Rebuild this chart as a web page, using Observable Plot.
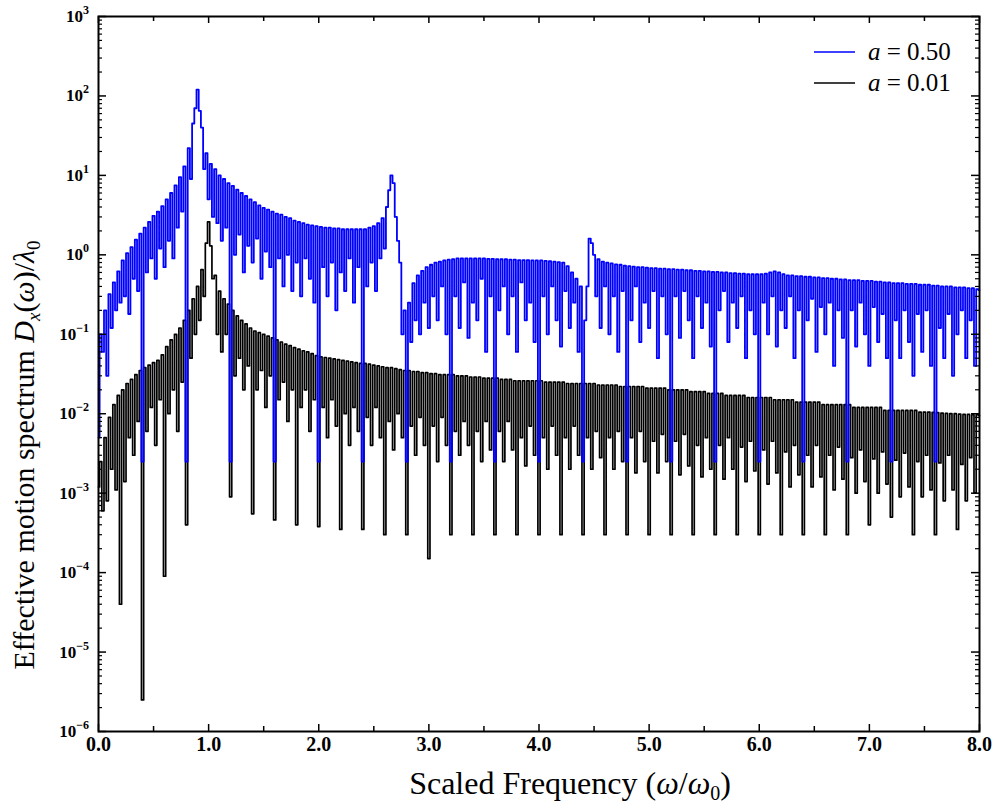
<!DOCTYPE html>
<html><head><meta charset="utf-8">
<script src="https://cdn.jsdelivr.net/npm/d3@7"></script>
<script src="https://cdn.jsdelivr.net/npm/@observablehq/plot@0.6"></script>
<style>
html,body{margin:0;padding:0;background:#fff;}
#chart svg{display:block;}
</style></head><body><div id="chart"></div>
<script>
// sampling interval of the spectra (in ω/ω0)
const step = 0.02;

// a = 0.50 (blue), samples at x = 0, 0.02, ... 8.00 (one row = 0.4 units)
const blueValues = [
  0.005, 0.1, 0.06, 0.2, 0.03, 0.32, 0.12, 0.45, 0.2, 0.62, 0.25, 0.85, 0.3, 1.05, 0.18, 1.25, 0.5, 1.55, 0.35, 1.85,
  0.0025, 2.2, 0.6, 2.6, 0.9, 3.1, 0.5, 3.5, 1.2, 4.1, 0.7, 5.0, 1.5, 6.0, 0.9, 7.5, 2.2, 9.5, 3.5, 13,
  0.0025, 22, 9, 45, 70, 120, 65, 40, 12, 19, 5, 14, 3, 12, 2.5, 10, 1.5, 9, 2.2, 8,
  0.0025, 7.4, 1.0, 6.6, 1.8, 6.0, 0.6, 5.5, 1.3, 5.0, 0.8, 4.6, 1.6, 4.2, 0.5, 3.9, 1.1, 3.7, 0.7, 3.5,
  0.0025, 3.3, 0.9, 3.2, 0.4, 3.0, 1.0, 2.9, 0.35, 2.7, 0.8, 2.6, 0.3, 2.5, 0.9, 2.4, 0.5, 2.35, 0.25, 2.3,
  0.0025, 2.25, 0.7, 2.2, 0.3, 2.2, 0.8, 2.15, 0.2, 2.15, 0.6, 2.1, 0.35, 2.1, 0.9, 2.1, 0.25, 2.1, 0.7, 2.1,
  0.0025, 2.1, 0.4, 2.2, 0.8, 2.3, 0.35, 2.5, 0.9, 2.9, 1.2, 4.0, 6.5, 10, 8, 3.0, 1.5, 0.8, 0.1, 0.2,
  0.0025, 0.25, 0.08, 0.44, 0.15, 0.55, 0.1, 0.63, 0.25, 0.7, 0.12, 0.75, 0.3, 0.8, 0.15, 0.82, 0.4, 0.85, 0.1, 0.87,
  0.0025, 0.88, 0.3, 0.9, 0.12, 0.9, 0.45, 0.9, 0.09, 0.9, 0.25, 0.9, 0.15, 0.9, 0.5, 0.9, 0.06, 0.89, 0.3, 0.89,
  0.0025, 0.88, 0.2, 0.88, 0.4, 0.88, 0.1, 0.87, 0.3, 0.87, 0.06, 0.86, 0.45, 0.86, 0.15, 0.86, 0.25, 0.85, 0.08, 0.85,
  0.0025, 0.85, 0.3, 0.84, 0.1, 0.83, 0.4, 0.82, 0.15, 0.81, 0.07, 0.8, 0.35, 0.72, 0.12, 0.6, 0.25, 0.5, 0.06, 0.4,
  0.0025, 0.15, 0.4, 1.6, 1.4, 1.0, 0.3, 0.88, 0.12, 0.82, 0.4, 0.8, 0.1, 0.78, 0.3, 0.76, 0.06, 0.75, 0.35, 0.73,
  0.0025, 0.72, 0.15, 0.71, 0.4, 0.7, 0.08, 0.7, 0.25, 0.69, 0.12, 0.68, 0.35, 0.68, 0.05, 0.67, 0.3, 0.67, 0.1, 0.66,
  0.0025, 0.66, 0.3, 0.65, 0.09, 0.65, 0.35, 0.64, 0.15, 0.64, 0.05, 0.63, 0.3, 0.63, 0.12, 0.62, 0.25, 0.62, 0.07, 0.61,
  0.0025, 0.61, 0.2, 0.6, 0.35, 0.6, 0.08, 0.59, 0.25, 0.59, 0.12, 0.58, 0.3, 0.58, 0.05, 0.57, 0.2, 0.57, 0.1, 0.57,
  0.0025, 0.57, 0.25, 0.58, 0.1, 0.6, 0.3, 0.62, 0.07, 0.6, 0.2, 0.57, 0.12, 0.55, 0.3, 0.55, 0.05, 0.54, 0.2, 0.54,
  0.0025, 0.53, 0.15, 0.53, 0.28, 0.52, 0.06, 0.52, 0.22, 0.51, 0.1, 0.51, 0.25, 0.5, 0.04, 0.5, 0.2, 0.49, 0.09, 0.49,
  0.0025, 0.48, 0.2, 0.48, 0.07, 0.48, 0.25, 0.47, 0.1, 0.47, 0.04, 0.47, 0.22, 0.46, 0.08, 0.46, 0.18, 0.45, 0.05, 0.45,
  0.0025, 0.44, 0.15, 0.44, 0.05, 0.44, 0.2, 0.43, 0.08, 0.43, 0.03, 0.43, 0.18, 0.42, 0.06, 0.42, 0.2, 0.42, 0.04, 0.41,
  0.0025, 0.41, 0.12, 0.4, 0.05, 0.4, 0.18, 0.4, 0.03, 0.39, 0.1, 0.39, 0.2, 0.39, 0.05, 0.38, 0.15, 0.38, 0.04, 0.37,
  0.36
];

// a = 0.01 (black), same sampling
const blackValues = [
  0.0012, 0.0025, 0.0006, 0.005, 0.0008, 0.009, 0.002, 0.013, 0.0011, 0.017, 0.00004, 0.02, 0.0014, 0.024, 0.005, 0.027, 0.003, 0.031, 0.008, 0.035,
  0.0000025, 0.038, 0.006, 0.041, 0.012, 0.044, 0.004, 0.047, 0.015, 0.055, 0.00009, 0.07, 0.01, 0.085, 0.02, 0.1, 0.006, 0.12, 0.025, 0.15,
  0.0004, 0.2, 0.05, 0.28, 0.1, 0.4, 0.15, 0.65, 0.3, 1.4, 2.6, 1.3, 0.5, 0.55, 0.1, 0.35, 0.06, 0.28, 0.1, 0.24,
  0.0009, 0.2, 0.03, 0.17, 0.05, 0.15, 0.02, 0.135, 0.04, 0.12, 0.00055, 0.11, 0.02, 0.105, 0.035, 0.1, 0.012, 0.095, 0.03, 0.09,
  0.00046, 0.085, 0.015, 0.08, 0.025, 0.075, 0.008, 0.072, 0.02, 0.068, 0.0004, 0.065, 0.012, 0.062, 0.02, 0.06, 0.006, 0.057, 0.015, 0.054,
  0.00038, 0.052, 0.012, 0.051, 0.005, 0.05, 0.015, 0.049, 0.007, 0.048, 0.00035, 0.047, 0.01, 0.046, 0.004, 0.045, 0.012, 0.044, 0.006, 0.043,
  0.00035, 0.043, 0.009, 0.042, 0.004, 0.041, 0.012, 0.04, 0.005, 0.039, 0.0003, 0.038, 0.008, 0.038, 0.0035, 0.037, 0.01, 0.036, 0.005, 0.035,
  0.0003, 0.035, 0.007, 0.034, 0.003, 0.034, 0.009, 0.033, 0.004, 0.033, 0.00015, 0.032, 0.007, 0.032, 0.0025, 0.031, 0.009, 0.031, 0.004, 0.031,
  0.0003, 0.031, 0.006, 0.03, 0.003, 0.03, 0.008, 0.03, 0.004, 0.029, 0.0003, 0.029, 0.006, 0.029, 0.0025, 0.028, 0.008, 0.028, 0.0035, 0.028,
  0.0003, 0.028, 0.006, 0.027, 0.0025, 0.027, 0.008, 0.027, 0.0035, 0.026, 0.0003, 0.026, 0.005, 0.026, 0.0022, 0.026, 0.007, 0.026, 0.003, 0.026,
  0.0003, 0.026, 0.005, 0.025, 0.002, 0.025, 0.007, 0.025, 0.003, 0.025, 0.0003, 0.025, 0.005, 0.024, 0.002, 0.024, 0.007, 0.024, 0.003, 0.024,
  0.0003, 0.024, 0.005, 0.024, 0.002, 0.024, 0.006, 0.023, 0.0028, 0.023, 0.0003, 0.023, 0.005, 0.023, 0.002, 0.023, 0.006, 0.022, 0.0025, 0.022,
  0.0003, 0.022, 0.005, 0.022, 0.0018, 0.022, 0.006, 0.022, 0.0025, 0.021, 0.0003, 0.021, 0.0045, 0.021, 0.0018, 0.021, 0.0055, 0.021, 0.0025, 0.02,
  0.0003, 0.02, 0.0045, 0.02, 0.0017, 0.02, 0.0055, 0.02, 0.0022, 0.019, 0.0003, 0.019, 0.004, 0.019, 0.0016, 0.019, 0.005, 0.018, 0.002, 0.018,
  0.0003, 0.018, 0.004, 0.018, 0.0015, 0.017, 0.005, 0.017, 0.002, 0.017, 0.0003, 0.017, 0.0038, 0.017, 0.0014, 0.016, 0.0045, 0.016, 0.0019, 0.016,
  0.0003, 0.016, 0.0035, 0.016, 0.0013, 0.016, 0.0045, 0.015, 0.0018, 0.015, 0.0003, 0.015, 0.0033, 0.015, 0.0012, 0.015, 0.004, 0.014, 0.0017, 0.014,
  0.0003, 0.014, 0.003, 0.014, 0.0012, 0.014, 0.004, 0.014, 0.0016, 0.013, 0.0003, 0.013, 0.003, 0.013, 0.0011, 0.013, 0.0038, 0.013, 0.0015, 0.013,
  0.0003, 0.013, 0.0028, 0.012, 0.001, 0.012, 0.0035, 0.012, 0.0014, 0.012, 0.0004, 0.012, 0.0027, 0.012, 0.001, 0.012, 0.0033, 0.011, 0.0013, 0.011,
  0.0005, 0.011, 0.0026, 0.011, 0.0009, 0.011, 0.0032, 0.011, 0.0012, 0.011, 0.0003, 0.011, 0.0025, 0.0105, 0.0009, 0.0105, 0.003, 0.0105, 0.0011, 0.0104,
  0.0003, 0.0103, 0.0024, 0.0102, 0.0008, 0.0101, 0.003, 0.01, 0.0011, 0.01, 0.00035, 0.0099, 0.0023, 0.0098, 0.0008, 0.0098, 0.0028, 0.0097, 0.001, 0.0097,
  0.0095
];

const seriesNames = ["0.50", "0.01"];
const seriesColors = ["#0000ff", "#000000"];

const xTickValues = [0, 1, 2, 3, 4, 5, 6, 7, 8];
const xTickLabels = ["0.0", "1.0", "2.0", "3.0", "4.0", "5.0", "6.0", "7.0", "8.0"];
const xMinorTicks = [0.5, 1.5, 2.5, 3.5, 4.5, 5.5, 6.5, 7.5];
const yExponents = [-6, -5, -4, -3, -2, -1, 0, 1, 2, 3];
const yMinorFactors = [2, 3, 4, 5, 6, 7, 8, 9];

const blueData = blueValues.map((v, i) => ({x: i * step, y: v}));
const blackData = blackValues.map((v, i) => ({x: i * step, y: v}));
const yMajorTicks = yExponents.map(e => Math.pow(10, e));
const yMinorTicks = yExponents.slice(0, -1).flatMap(e => yMinorFactors.map(f => f * Math.pow(10, e)));

const W = 995, H = 805;
const mL = 98, mR = 16, mT = 16, mB = 74;
const innerW = W - mL - mR, innerH = H - mT - mB;

const serif = "'Liberation Serif', 'Times New Roman', serif";

const plot = Plot.plot({
  width: W, height: H,
  marginLeft: mL, marginRight: mR, marginTop: mT, marginBottom: mB,
  style: {fontFamily: serif, background: "#fff"},
  x: {domain: [0, 8], axis: null},
  y: {type: "log", domain: [1e-6, 1e3], axis: null},
  marks: [
    Plot.line(blackData, {x: "x", y: "y", stroke: seriesColors[1], strokeWidth: 1.7, curve: "step"}),
    Plot.line(blueData, {x: "x", y: "y", stroke: seriesColors[0], strokeWidth: 1.8, curve: "step"}),
    // inward ticks, bottom & top
    Plot.tickX(xTickValues, {x: d => d, insetTop: innerH - 7, strokeWidth: 1.5}),
    Plot.tickX(xTickValues, {x: d => d, insetBottom: innerH - 7, strokeWidth: 1.5}),
    Plot.tickX(xMinorTicks, {x: d => d, insetTop: innerH - 5, strokeWidth: 1.5}),
    Plot.tickX(xMinorTicks, {x: d => d, insetBottom: innerH - 5, strokeWidth: 1.5}),
    // inward ticks, left & right
    Plot.tickY(yMajorTicks, {y: d => d, insetRight: innerW - 8, strokeWidth: 1.5}),
    Plot.tickY(yMajorTicks, {y: d => d, insetLeft: innerW - 8, strokeWidth: 1.5}),
    Plot.tickY(yMinorTicks, {y: d => d, insetRight: innerW - 4, strokeWidth: 1.2}),
    Plot.tickY(yMinorTicks, {y: d => d, insetLeft: innerW - 4, strokeWidth: 1.2}),
    // x tick labels
    Plot.text(xTickValues, {x: d => d, frameAnchor: "bottom", dy: 19, text: (d, i) => xTickLabels[i],
      fontSize: 20, fontWeight: "bold", textAnchor: "middle"}),
    Plot.frame({stroke: "#000", strokeWidth: 2})
  ]
});

document.getElementById("chart").appendChild(plot);

const svg = d3.select(plot);
const yScale = plot.scale("y");
const g = svg.append("g").attr("font-family", serif).attr("fill", "#000").attr("text-anchor", "start");

// y tick labels: 10 with superscript exponent, positioned with Plot's y scale
yExponents.forEach((e, i) => {
  const py = yScale.apply(yMajorTicks[i]);
  const t = g.append("text").attr("x", 89).attr("y", py + 6).attr("text-anchor", "end")
    .attr("font-weight", "bold").attr("font-size", 17);
  t.append("tspan").text("10");
  t.append("tspan").attr("font-size", 12).attr("dy", -8).text(String(e).replace("-", "\u2212"));
});

// x-axis title
const xt = g.append("text").attr("x", 570).attr("y", 794).attr("text-anchor", "middle").attr("font-size", 32);
xt.append("tspan").text("Scaled Frequency (");
xt.append("tspan").attr("font-style", "italic").text("\u03C9");
xt.append("tspan").text("/");
xt.append("tspan").attr("font-style", "italic").text("\u03C9");
xt.append("tspan").attr("font-size", 20).attr("dy", 6).text("0");
xt.append("tspan").attr("dy", -6).text(")");

// y-axis title
const yt = g.append("text").attr("transform", "translate(34,455) rotate(-90)").attr("text-anchor", "middle").attr("font-size", 30);
yt.append("tspan").text("Effective motion spectrum ");
yt.append("tspan").attr("font-style", "italic").text("D");
yt.append("tspan").attr("font-style", "italic").attr("font-size", 19).attr("dy", 6).text("x");
yt.append("tspan").attr("dy", -6).text("(");
yt.append("tspan").attr("font-style", "italic").text("\u03C9");
yt.append("tspan").text(")/");
yt.append("tspan").attr("font-style", "italic").text("\u03BB");
yt.append("tspan").attr("font-size", 19).attr("dy", 6).text("0");

// legend
seriesNames.forEach((name, i) => {
  const cy = 52 + i * 31;
  g.append("line").attr("x1", 814).attr("x2", 855).attr("y1", cy).attr("y2", cy)
    .attr("stroke", seriesColors[i]).attr("stroke-width", 1.5);
  const t = g.append("text").attr("x", 868).attr("y", cy + 8).attr("font-size", 25).attr("text-anchor", "start");
  t.append("tspan").attr("font-style", "italic").text("a");
  t.append("tspan").text(" = " + name);
});
</script>
</body></html>
